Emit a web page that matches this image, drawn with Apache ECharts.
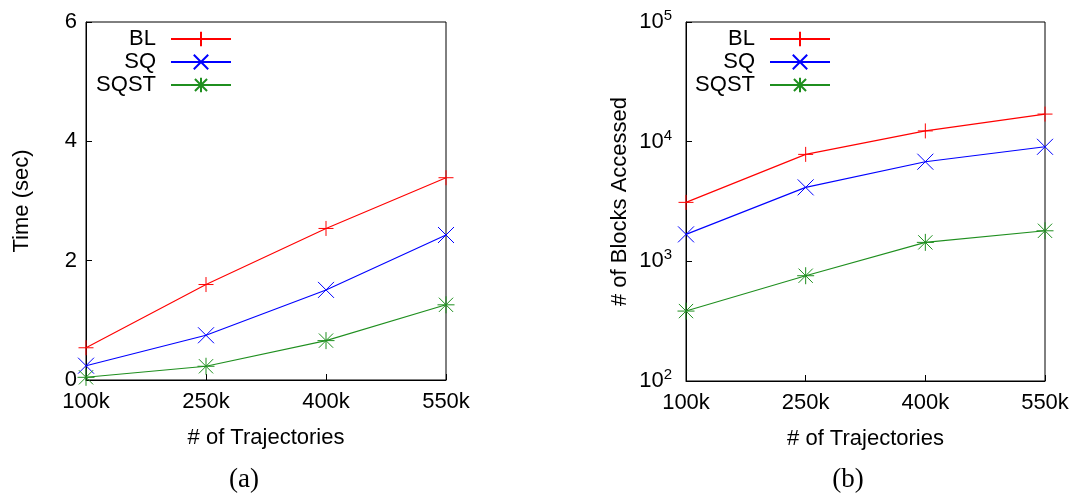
<!DOCTYPE html>
<html lang="en">
<head>
    <meta charset="UTF-8">
    <script src="https://cdn.jsdelivr.net/npm/echarts@6/dist/echarts.min.js"></script>
    <title>Trajectories</title>
    <style>
        html, body { margin: 0; padding: 0; background: #ffffff; }
        #chart { width: 1073px; height: 497px; }
    </style>
</head>
<body>
    <div id="chart"></div>
    <script>
        // data
        var trajectories = ['100k', '250k', '400k', '550k'];
        var seriesNames = ['BL', 'SQ', 'SQST'];

        // (a) time in seconds
        var timeBL = [0.54, 1.60, 2.54, 3.39];
        var timeSQ = [0.24, 0.75, 1.51, 2.43];
        var timeSQST = [0.045, 0.23, 0.66, 1.26];

        // (b) blocks accessed
        var blocksBL = [3110, 7830, 12300, 17000];
        var blocksSQ = [1680, 4150, 6800, 9060];
        var blocksSQST = [384, 758, 1440, 1800];

        var font = 'Liberation Sans, Arial, sans-serif';
        var fs = 22;
        var colors = ['#ff0000', '#0000ff', '#1f8f1f'];
        var symbols = [
            'path://M0,5 L10,5 M5,0 L5,10',
            'path://M0,0 L10,10 M10,0 L0,10',
            'path://M0,5 L10,5 M5,0 L5,10 M0.8,0.8 L9.2,9.2 M9.2,0.8 L0.8,9.2'
        ];
        var sizes = [15, 16, 17];

        function makeSeries(i, data, idx) {
            return {
                name: seriesNames[i],
                type: 'line',
                xAxisIndex: idx,
                yAxisIndex: idx,
                data: data,
                symbol: symbols[i],
                symbolSize: sizes[i],
                clip: false,
                itemStyle: { color: 'rgba(0,0,0,0)', borderColor: colors[i], borderWidth: 1 },
                lineStyle: { color: colors[i], width: 1.1 },
                emphasis: { disabled: true },
                animation: false
            };
        }

        function makeLegend(i, right, top) {
            return {
                data: [seriesNames[i]],
                right: right,
                top: top,
                align: 'right',
                itemWidth: 60,
                itemHeight: 18,
                padding: 0,
                selectedMode: false,
                textStyle: { fontFamily: font, fontSize: fs, color: '#000', padding: [0, 10, 0, 0] }
            };
        }

        function xAxis(idx) {
            return {
                type: 'category',
                gridIndex: idx,
                data: trajectories,
                boundaryGap: false,
                name: '# of Trajectories',
                nameLocation: 'middle',
                nameGap: 47,
                nameTextStyle: { fontFamily: font, fontSize: fs, color: '#000' },
                axisLine: { lineStyle: { color: '#000', width: 1 } },
                axisTick: { inside: true, length: 6, lineStyle: { color: '#000' } },
                axisLabel: { fontFamily: font, fontSize: fs, color: '#000', margin: 11 },
                splitLine: { show: false }
            };
        }

        var chart = echarts.init(document.getElementById('chart'));

        chart.setOption({
            animation: false,
            grid: [
                { left: 86, right: 627, top: 22, bottom: 117, show: true, borderColor: '#000', borderWidth: 1 },
                { left: 686, right: 28, top: 22, bottom: 116, show: true, borderColor: '#000', borderWidth: 1 }
            ],
            legend: [
                makeLegend(0, 841, 28),
                makeLegend(1, 841, 51),
                makeLegend(2, 841, 74),
                makeLegend(0, 242, 28),
                makeLegend(1, 242, 51),
                makeLegend(2, 242, 74)
            ],
            xAxis: [xAxis(0), xAxis(1)],
            yAxis: [
                {
                    type: 'value',
                    gridIndex: 0,
                    min: 0,
                    max: 6,
                    interval: 2,
                    name: 'Time (sec)',
                    nameLocation: 'middle',
                    nameGap: 53,
                    nameTextStyle: { fontFamily: font, fontSize: fs, color: '#000' },
                    axisLine: { show: true, lineStyle: { color: '#000' } },
                    axisTick: { show: true, inside: true, length: 6, lineStyle: { color: '#000' } },
                    axisLabel: { fontFamily: font, fontSize: fs, color: '#000', margin: 9 },
                    splitLine: { show: false }
                },
                {
                    type: 'log',
                    logBase: 10,
                    gridIndex: 1,
                    min: 100,
                    max: 100000,
                    name: '# of Blocks Accessed',
                    nameLocation: 'middle',
                    nameGap: 55,
                    nameTextStyle: { fontFamily: font, fontSize: fs, color: '#000' },
                    axisLine: { show: true, lineStyle: { color: '#000' } },
                    axisTick: { show: true, inside: true, length: 6, lineStyle: { color: '#000' } },
                    axisLabel: {
                        fontFamily: font, fontSize: fs, color: '#000', margin: 14,
                        formatter: function (v) {
                            return '10{sup|' + Math.round(Math.log10(v)) + '}';
                        },
                        rich: {
                            sup: { fontFamily: font, fontSize: 15, color: '#000', verticalAlign: 'top', padding: [0, 0, 12, 0] }
                        }
                    },
                    splitLine: { show: false }
                }
            ],
            graphic: [
                { type: 'text', x: 244, y: 480, style: { text: '(a)', font: '27px Liberation Serif, Times New Roman, serif', fill: '#000', align: 'center', verticalAlign: 'middle' } },
                { type: 'text', x: 848, y: 480, style: { text: '(b)', font: '27px Liberation Serif, Times New Roman, serif', fill: '#000', align: 'center', verticalAlign: 'middle' } }
            ],
            series: [
                makeSeries(0, timeBL, 0),
                makeSeries(1, timeSQ, 0),
                makeSeries(2, timeSQST, 0),
                makeSeries(0, blocksBL, 1),
                makeSeries(1, blocksSQ, 1),
                makeSeries(2, blocksSQST, 1)
            ]
        });
    </script>
</body>
</html>
